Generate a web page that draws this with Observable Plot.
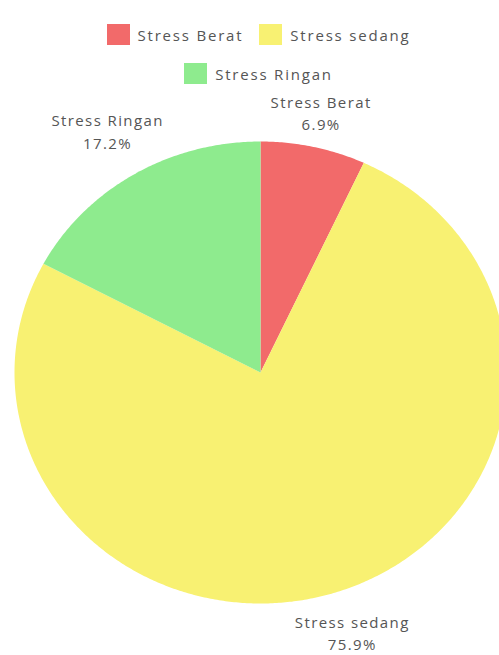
<!DOCTYPE html>
<html>
<head>
<meta charset="utf-8">
<script src="https://cdn.jsdelivr.net/npm/d3@7"></script>
<script src="https://cdn.jsdelivr.net/npm/@observablehq/plot@0.6"></script>
<style>
  html, body { margin: 0; padding: 0; background: #fff; overflow: hidden; }
  body { width: 499px; height: 655px; font-family: "Open Sans", sans-serif; }
  #legend { height: 90px; box-sizing: border-box; padding-top: 24px; padding-left: 18px; }
  .row { display: flex; justify-content: center; align-items: center; height: 21px; margin-bottom: 18px; }
  .item { display: flex; align-items: center; margin: 0 8px; }
  .sw { width: 23px; height: 21px; margin-right: 8px; }
  .lab { font-size: 15px; color: #555; letter-spacing: 1.8px; }
  #chart svg { overflow: hidden; display: block; }
  #chart svg text { letter-spacing: 1.4px; }
</style>
</head>
<body>
<div id="legend"></div>
<div id="chart"></div>
<script>
const categories = ["Stress Berat", "Stress sedang", "Stress Ringan"];
const values = [6.9, 75.9, 17.2];
const percentLabels = ["6.9%", "75.9%", "17.2%"];
const colors = ["#f26a6a", "#f8f172", "#8eeb8e"];
const legendRows = [["Stress Berat", "Stress sedang"], ["Stress Ringan"]];

// legend (HTML, above the SVG)
const legend = document.getElementById("legend");
for (const row of legendRows) {
  const r = document.createElement("div");
  r.className = "row";
  for (const name of row) {
    const it = document.createElement("div");
    it.className = "item";
    const sw = document.createElement("div");
    sw.className = "sw";
    sw.style.background = colors[categories.indexOf(name)];
    const lb = document.createElement("span");
    lb.className = "lab";
    lb.textContent = name;
    it.appendChild(sw); it.appendChild(lb);
    r.appendChild(it);
  }
  legend.appendChild(r);
}

const W = 499, H = 565;
const cx = 260, cy = 282, rx = 246, ry = 231;
const fontSize = 15, lineHeight = 1.5, spacing = 1.4, labelOffset = 3;

// pie geometry from data
const pie = d3.pie().sort(null).value(d => d.value)(
  categories.map((c, i) => ({name: c, value: values[i], pct: percentLabels[i]}))
);
const wedgePts = [];
for (const a of pie) {
  const n = Math.max(4, Math.ceil((a.endAngle - a.startAngle) / (Math.PI / 360)));
  wedgePts.push({name: a.data.name, x: 0, y: 0});
  for (let k = 0; k <= n; k++) {
    const t = a.startAngle + (a.endAngle - a.startAngle) * k / n;
    wedgePts.push({name: a.data.name, x: Math.sin(t), y: Math.cos(t)});
  }
  wedgePts.push({name: a.data.name, x: 0, y: 0});
}

// labels placed just outside the edge, box pushed out along the mid-angle
const ctx = document.createElement("canvas").getContext("2d");
ctx.font = `${fontSize}px "Open Sans"`;
const measure = s => ctx.measureText(s).width + spacing * s.length;
const labels = pie.map(a => {
  const m = (a.startAngle + a.endAngle) / 2;
  const ux = Math.sin(m), uy = Math.cos(m);
  const w = Math.max(measure(a.data.name), measure(a.data.pct));
  const h = 2 * fontSize * lineHeight;
  const ex = rx * ux, ey = ry * uy;             // edge point in px
  const push = labelOffset + Math.abs(w / 2 * ux) + Math.abs(h / 2 * uy);
  const px = ex + push * ux, py = ey + push * uy;
  return {name: a.data.name, text: a.data.name + "\n" + a.data.pct, x: px / rx, y: py / ry};
});

const chart = Plot.plot({
  width: W,
  height: H,
  margin: 0,
  x: {domain: [-1, 1], range: [cx - rx, cx + rx], axis: null},
  y: {domain: [-1, 1], range: [cy + ry, cy - ry], axis: null},
  color: {domain: categories, range: colors},
  style: {background: "#fff", fontFamily: "'Open Sans', sans-serif"},
  marks: [
    Plot.line(wedgePts, {x: "x", y: "y", z: "name", fill: "name", stroke: "none"}),
    Plot.text(labels, {x: "x", y: "y", text: "text", fill: "#555", fontSize: fontSize, lineHeight: lineHeight, textAnchor: "middle"})
  ]
});
document.getElementById("chart").appendChild(chart);
</script>
</body>
</html>
